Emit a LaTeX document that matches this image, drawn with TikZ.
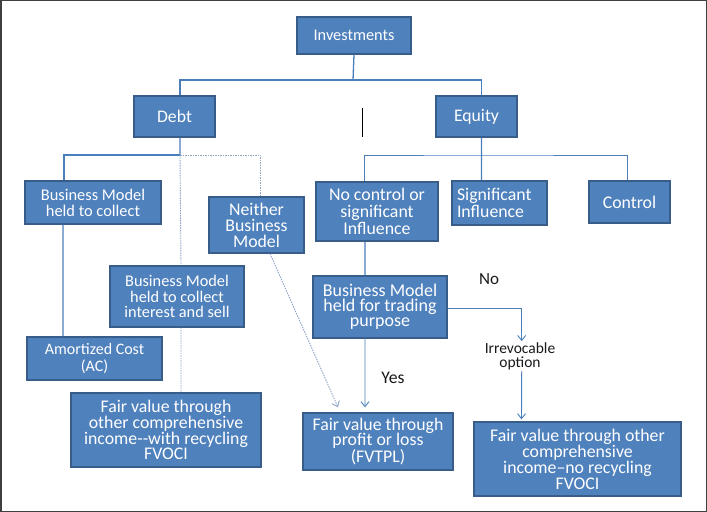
\documentclass[tikz,border=0pt]{standalone}
\usepackage{fontspec}
\setmainfont{Carlito}
\usetikzlibrary{arrows.meta}
\definecolor{boxfill}{HTML}{4F81BD}
\definecolor{boxborder}{HTML}{385D8A}
\definecolor{conncol}{HTML}{4A7EBB}
\definecolor{dotcol}{HTML}{8FA5C8}
\definecolor{framecol}{HTML}{404040}
\begin{document}
\begin{tikzpicture}[x=1bp,y=-1bp,
  box/.style={draw=boxborder, fill=boxfill, line width=1.3bp, text=white, align=center, inner sep=0pt},
  fs/.style 2 args={font=\fontsize{#1bp}{#2bp}\selectfont},
  conn/.style={draw=conncol, line width=1.3bp},
  thinconn/.style={draw=conncol, line width=0.9bp},
  dotconn/.style={draw=dotcol, line width=0.9bp, dash pattern=on 1.5bp off 1bp},
  tip/.style={-{Straight Barb[length=5bp,width=8bp]}},
  lbl/.style={text=black!90, inner sep=1bp, align=center}]
\useasboundingbox (0,0) rectangle (707,512);
\draw[framecol, line width=1.5bp] (0.75,0.75) rectangle (706.25,511.25);

% nodes
\node[box, fs={16.3}{16}, minimum width=114bp, minimum height=37bp] (inv) at (354,35.5) {Investments};
\node[box, fs={17.7}{16}, minimum width=81bp, minimum height=41bp] (debt) at (174.5,116.5) {Debt};
\node[box, fs={17.7}{16}, minimum width=81bp, minimum height=41bp] (equity) at (476.5,116.5) {Equity};
\node[box, fs={16.4}{16}, minimum width=136bp, minimum height=43bp] (bmc) at (93,202.5) {Business Model\\held to collect};
\node[box, fs={17.8}{16}, minimum width=95bp, minimum height=56bp] (neither) at (256.5,225) {Neither\\Business\\Model};
\node[box, fs={16.3}{15.4}, minimum width=134bp, minimum height=61bp] (bmis) at (177,296.5) {Business Model\\held to collect\\interest and sell};
\node[box, fs={16}{16.7}, minimum width=135bp, minimum height=43bp] (ac) at (94.5,358.5) {Amortized Cost\\(AC)};
\node[box, fs={17.8}{15.8}, minimum width=190bp, minimum height=74bp] (fvocir) at (166,430) {Fair value through\\other comprehensive\\income-{}-with recycling\\FVOCI};
\node[box, fs={17.8}{16.7}, minimum width=122bp, minimum height=59bp] (noc) at (377,211.5) {No control or\\significant\\Influence};
\node[box, fs={17.8}{16.7}, minimum width=95bp, minimum height=44bp, align=left, text width=85bp] (sig) at (499.5,203) {Significant\\Influence};
\node[box, fs={17.8}{16}, minimum width=81bp, minimum height=42bp] (ctrl) at (629.5,202) {Control};
\node[box, fs={18}{15.2}, minimum width=134bp, minimum height=62bp] (bmt) at (380,307) {Business Model\\held for trading\\purpose};
\node[box, fs={17.8}{15.7}, minimum width=150bp, minimum height=57bp] (fvtpl) at (378,441.5) {Fair value through\\profit or loss\\(FVTPL)};
\node[box, fs={17.8}{15.2}, minimum width=207bp, minimum height=74bp] (fvocin) at (577.5,459) {Fair value through other\\comprehensive\\income--no recycling\\FVOCI};

\node[lbl, fs={17}{16}] (no) at (489,279) {No};
\node[lbl, fs={17.7}{16}] (yes) at (393,378) {Yes};
\node[lbl, fs={15.5}{14}] (irr) at (520,356) {Irrevocable\\option};

% cursor mark
\draw[black, line width=0.9bp] (362.5,108) -- (362.5,137);

% top level
\coordinate (tbus) at (353,80);
\draw[conn] (inv.south) -- (tbus);
\draw[conn] ([xshift=5.5bp]debt.north) |- (tbus) -| ([xshift=5bp]equity.north);

% debt branch
\coordinate (dbus) at (180,155);
\draw[conn] ([xshift=5.5bp]debt.south) -- (dbus);
\draw[conn] (dbus) -| ([xshift=-29bp]bmc.north);
\draw[dotconn] (dbus) -| ([xshift=3.5bp]neither.north);
\draw[dotconn] (dbus) -- ([xshift=4bp]bmis.north);
\draw[dotconn] ([xshift=4bp]bmis.south) -- ([xshift=15bp]fvocir.north);
\draw[conn] ([xshift=-30bp]bmc.south) -- ([xshift=-31.5bp]ac.north);
\draw[dotconn, tip] ([xshift=13.5bp]neither.south) -- ([xshift=-40bp,yshift=5bp]fvtpl.north);

% equity branch
\coordinate (ebus) at (481.5,155);
\draw[conn] ([xshift=5bp]equity.south) -- ([xshift=-18bp]sig.north);
\draw[thinconn] ([xshift=-13bp]noc.north) |- (ebus) -| ([xshift=-2.5bp]ctrl.north);
\draw[conn] ([xshift=-12bp]noc.south) -- ([xshift=-15bp]bmt.north);
\draw[thinconn, tip] ([xshift=-15bp]bmt.south) -- ([xshift=-13bp,yshift=5bp]fvtpl.north);
\draw[thinconn, tip] ([yshift=-1bp]bmt.east) -| ([xshift=1.7bp]irr.north);
\draw[thinconn, tip] ([xshift=1.7bp]irr.south) -- ([xshift=-56bp,yshift=2bp]fvocin.north);
\end{tikzpicture}
\end{document}
